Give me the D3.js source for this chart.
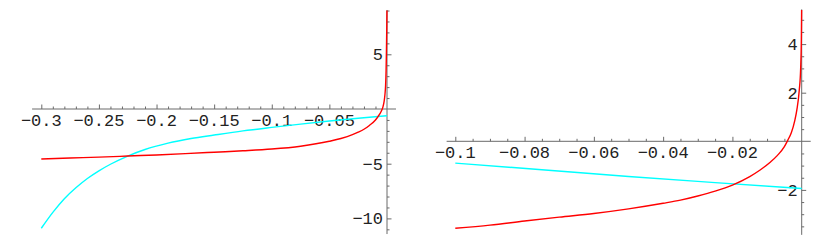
<!DOCTYPE html>
<html>
<head>
<meta charset="utf-8">
<script src="https://cdn.jsdelivr.net/npm/d3@7/dist/d3.min.js"></script>
<style>
  html, body { margin: 0; padding: 0; background: #fff; }
  svg { display: block; }
  .lbl { font-family: "Liberation Mono", "Courier New", monospace; font-size: 17px; fill: #222; }
</style>
</head>
<body>
<svg id="chart" width="830" height="244"></svg>
<script>
// ---------- data: left panel ----------
const leftRedX = [-0.3, -0.275, -0.25, -0.225, -0.2, -0.175, -0.15, -0.125, -0.1, -0.075, -0.05, -0.04, -0.03, -0.025, -0.02, -0.015, -0.01, -0.0075, -0.005, -0.0035, -0.0025, -0.0018, -0.0012, -0.0008, -0.0005, -0.0002, -0.00005];
const leftRedY = [-4.57, -4.48, -4.40, -4.30, -4.20, -4.08, -3.95, -3.82, -3.66, -3.40, -2.95, -2.70, -2.35, -2.12, -1.85, -1.48, -1.0, -0.65, -0.2, 0.2, 0.7, 1.3, 2.2, 3.5, 5.2, 7.5, 9.0];
const leftCyanX = [-0.3, -0.29, -0.28, -0.27, -0.26, -0.25, -0.24, -0.225, -0.21, -0.19, -0.17, -0.15, -0.125, -0.1, -0.075, -0.05, -0.025, 0];
const leftCyanY = [-10.9, -9.45, -8.2, -7.2, -6.35, -5.65, -5.05, -4.30, -3.70, -3.12, -2.70, -2.38, -2.0, -1.68, -1.38, -1.1, -0.84, -0.61];
const leftXTicks = [-0.3, -0.25, -0.2, -0.15, -0.1, -0.05];
const leftXTickLabels = ["\u22120.3", "\u22120.25", "\u22120.2", "\u22120.15", "\u22120.1", "\u22120.05"];
const leftYTicks = [5, -5, -10];
const leftYTickLabels = ["5", "\u22125", "\u221210"];

// ---------- data: right panel ----------
const rightRedX = [-0.1, -0.09, -0.08, -0.07, -0.06, -0.05, -0.04, -0.035, -0.03, -0.025, -0.02, -0.015, -0.012, -0.009, -0.007, -0.005, -0.004, -0.003, -0.002, -0.0014, -0.0007, -0.0003, -0.0001, -0.00002];
const rightRedY = [-3.58, -3.45, -3.28, -3.12, -2.97, -2.78, -2.55, -2.42, -2.25, -2.05, -1.80, -1.45, -1.18, -0.85, -0.58, -0.22, 0.05, 0.35, 0.85, 1.29, 2.11, 3.0, 4.2, 5.4];
const rightCyanX = [-0.1, -0.075, -0.05, -0.025, 0];
const rightCyanY = [-0.90, -1.17, -1.45, -1.70, -1.94];
const rightXTicks = [-0.1, -0.08, -0.06, -0.04, -0.02];
const rightXTickLabels = ["\u22120.1", "\u22120.08", "\u22120.06", "\u22120.04", "\u22120.02"];
const rightYTicks = [4, 2, -2];
const rightYTickLabels = ["4", "2", "\u22122"];

const svg = d3.select("#chart");

function panel(cfg) {
  const g = svg.append("g");
  const x = d3.scaleLinear().domain(cfg.xDom).range(cfg.xRange);
  const y = d3.scaleLinear().domain(cfg.yDom).range(cfg.yRange);
  const axisColor = "#6a6a6a";
  const x0 = y(0), y0 = x(0);

  const xMinor = d3.range(Math.ceil(cfg.xExt[0] / cfg.xMinorStep - 1e-9), Math.floor(cfg.xExt[1] / cfg.xMinorStep + 1e-9) + 1)
    .map(i => +(i * cfg.xMinorStep).toFixed(6)).filter(v => v !== 0 && !cfg.xTicks.some(t => Math.abs(t - v) < 1e-9));
  const yMinor = d3.range(Math.ceil(cfg.yExt[0] / cfg.yMinorStep - 1e-9), Math.floor(cfg.yExt[1] / cfg.yMinorStep + 1e-9) + 1)
    .map(i => +(i * cfg.yMinorStep).toFixed(6)).filter(v => v !== 0 && !cfg.yTicks.some(t => Math.abs(t - v) < 1e-9));

  g.append("line").attr("x1", x(cfg.xExt[0])).attr("x2", x(cfg.xExt[1]))
    .attr("y1", x0).attr("y2", x0).attr("stroke", axisColor).attr("stroke-width", 1);
  g.append("line").attr("x1", y0).attr("x2", y0)
    .attr("y1", y(cfg.yExt[1])).attr("y2", y(cfg.yExt[0])).attr("stroke", axisColor).attr("stroke-width", 1);

  const xtMajor = d3.axisTop(x).tickValues(cfg.xTicks).tickSize(4.5).tickSizeOuter(0).tickFormat("");
  const xtMinor = d3.axisTop(x).tickValues(xMinor).tickSize(2.5).tickSizeOuter(0).tickFormat("");
  [xtMajor, xtMinor].forEach(ax => {
    const a = g.append("g").attr("transform", `translate(0,${x0})`).call(ax);
    a.select(".domain").remove();
    a.selectAll("line").attr("stroke", axisColor);
  });
  const ytMajor = d3.axisRight(y).tickValues(cfg.yTicks).tickSize(4.5).tickSizeOuter(0).tickFormat("");
  const ytMinor = d3.axisRight(y).tickValues(yMinor).tickSize(2.5).tickSizeOuter(0).tickFormat("");
  [ytMajor, ytMinor].forEach(ax => {
    const a = g.append("g").attr("transform", `translate(${y0},0)`).call(ax);
    a.select(".domain").remove();
    a.selectAll("line").attr("stroke", axisColor);
  });

  g.selectAll(".xl").data(cfg.xTicks).enter().append("text")
    .attr("class", "lbl").attr("text-anchor", "middle")
    .attr("x", d => x(d)).attr("y", x0 + 16.5)
    .text((d, i) => cfg.xLabels[i]);
  g.selectAll(".yl").data(cfg.yTicks).enter().append("text")
    .attr("class", "lbl").attr("text-anchor", "end")
    .attr("x", y0 - 4).attr("y", d => y(d) + 6)
    .text((d, i) => cfg.yLabels[i]);

  const line = d3.line().x(d => x(d[0])).y(d => y(d[1])).curve(d3.curveMonotoneX);
  cfg.series.forEach(s => {
    g.append("path").datum(d3.zip(s.xs, s.ys))
      .attr("fill", "none").attr("stroke", s.color).attr("stroke-width", 1.4)
      .attr("stroke-linejoin", "round").attr("d", line);
  });
}

panel({
  xDom: [-0.3, 0], xRange: [41.3, 387],
  yDom: [-10, 5], yRange: [218.4, 54.3],
  xExt: [-0.308, 0.0078], yExt: [-11.43, 9.05],
  xTicks: leftXTicks, xLabels: leftXTickLabels, xMinorStep: 0.01,
  yTicks: leftYTicks, yLabels: leftYTickLabels, yMinorStep: 1,
  series: [
    { xs: leftCyanX, ys: leftCyanY, color: "#00ffff" },
    { xs: leftRedX, ys: leftRedY, color: "#ff0000" }
  ]
});

panel({
  xDom: [-0.1, 0], xRange: [455.3, 801.7],
  yDom: [-2, 4], yRange: [189.9, 44.1],
  xExt: [-0.1025, 0.0026], yExt: [-3.85, 5.43],
  xTicks: rightXTicks, xLabels: rightXTickLabels, xMinorStep: 0.005,
  yTicks: rightYTicks, yLabels: rightYTickLabels, yMinorStep: 0.5,
  series: [
    { xs: rightCyanX, ys: rightCyanY, color: "#00ffff" },
    { xs: rightRedX, ys: rightRedY, color: "#ff0000" }
  ]
});
</script>
</body>
</html>
